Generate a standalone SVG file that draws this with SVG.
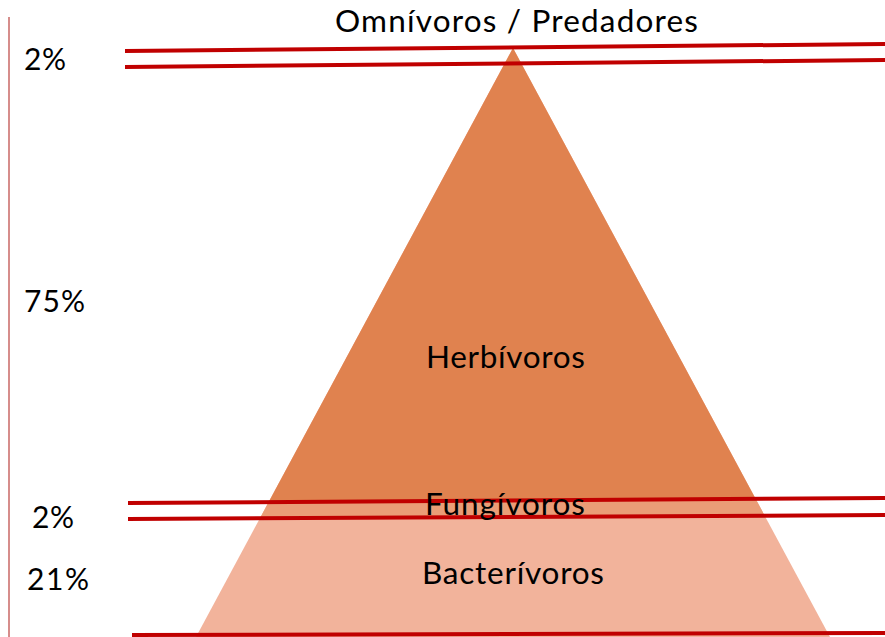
<svg xmlns="http://www.w3.org/2000/svg" width="885" height="637" viewBox="0 0 885 637">
<style>
.t{font-family:Lato,"Open Sans","Liberation Sans",sans-serif;font-size:31.5px;fill:#000}
.p{font-family:Lato,"Open Sans","Liberation Sans",sans-serif;font-size:30px;fill:#000}
.r{stroke:#C00000;stroke-width:4;fill:none}
</style>
<defs>
<clipPath id="tri"><polygon points="513,48 196,637 830,637"/></clipPath>
</defs>
<rect width="885" height="637" fill="#fff"/>
<g id="pyramid" clip-path="url(#tri)">
<rect x="0" y="0" width="885" height="637" fill="#F2B39B"/>
<polygon points="0,0 885,0 885,498 0,504" fill="#E0824F"/>
<polygon points="0,504 885,498 885,515 0,520" fill="#EA9D77"/>
</g>
<line id="axis" x1="9" y1="17" x2="9" y2="637" stroke="#C0504D" stroke-width="1.3"/>
<g id="lines">
<line class="r" x1="125" y1="51" x2="885" y2="44"/>
<line class="r" x1="125" y1="67" x2="885" y2="60"/>
<line class="r" x1="128" y1="503" x2="885" y2="498"/>
<line class="r" x1="128" y1="519" x2="885" y2="515"/>
<line class="r" x1="132" y1="635" x2="885" y2="633"/>
</g>
<g id="labels">
<text class="t" x="335" y="32" textLength="363">Omnívoros / Predadores</text>
<text class="t" x="426" y="368" textLength="159">Herbívoros</text>
<text class="t" x="425" y="515" textLength="160">Fungívoros</text>
<text class="t" x="422" y="584" textLength="182">Bacterívoros</text>
</g>
<g id="percents">
<text class="p" x="24" y="70" textLength="42">2%</text>
<text class="p" x="24" y="312" textLength="61">75%</text>
<text class="p" x="32" y="528" textLength="42">2%</text>
<text class="p" x="27" y="590" textLength="62">21%</text>
</g>
</svg>
